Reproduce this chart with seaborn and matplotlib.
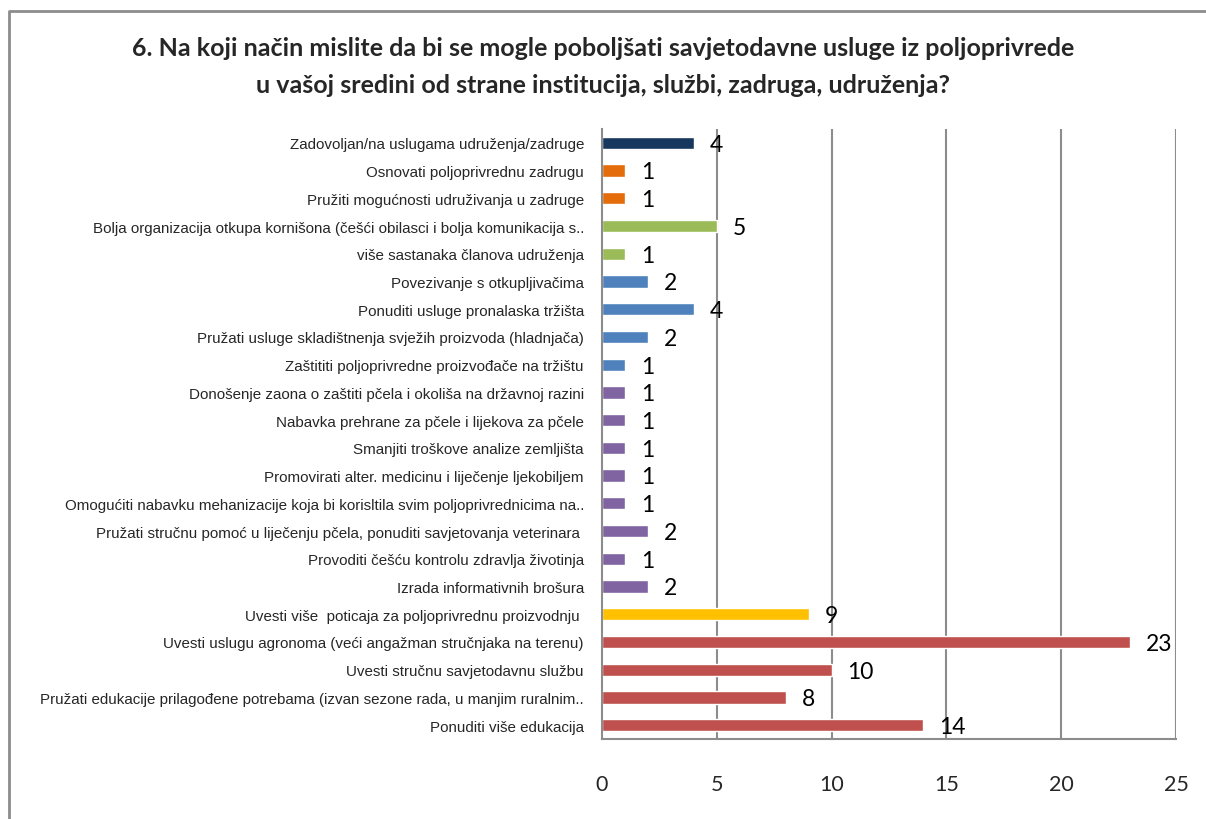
import matplotlib
matplotlib.use("Agg")
import matplotlib.pyplot as plt
from matplotlib.lines import Line2D
import numpy as np
import pandas as pd
import seaborn as sns

categories = [
    "Zadovoljan/na uslugama udruženja/zadruge",
    "Osnovati poljoprivrednu zadrugu",
    "Pružiti mogućnosti udruživanja u zadruge",
    "Bolja organizacija otkupa kornišona (češći obilasci i bolja komunikacija s..",
    "više sastanaka članova udruženja",
    "Povezivanje s otkupljivačima",
    "Ponuditi usluge pronalaska tržišta",
    "Pružati usluge skladištnenja svježih proizvoda (hladnjača)",
    "Zaštititi poljoprivredne proizvođače na tržištu",
    "Donošenje zaona o zaštiti pčela i okoliša na državnoj razini",
    "Nabavka prehrane za pčele i lijekova za pčele",
    "Smanjiti troškove analize zemljišta",
    "Promovirati alter. medicinu i liječenje ljekobiljem",
    "Omogućiti nabavku mehanizacije koja bi korisltila svim poljoprivrednicima na..",
    "Pružati stručnu pomoć u liječenju pčela, ponuditi savjetovanja veterinara ",
    "Provoditi češću kontrolu zdravlja životinja",
    "Izrada informativnih brošura",
    "Uvesti više  poticaja za poljoprivrednu proizvodnju ",
    "Uvesti uslugu agronoma (veći angažman stručnjaka na terenu)",
    "Uvesti stručnu savjetodavnu službu",
    "Pružati edukacije prilagođene potrebama (izvan sezone rada, u manjim ruralnim..",
    "Ponuditi više edukacija",
]
values = [4, 1, 1, 5, 1, 2, 4, 2, 1, 1, 1, 1, 1, 1, 2, 1, 2, 9, 23, 10, 8, 14]
colors = ["#17375E", "#E46C0A", "#E46C0A", "#9BBB59", "#9BBB59",
          "#4F81BD", "#4F81BD", "#4F81BD", "#4F81BD",
          "#8064A2", "#8064A2", "#8064A2", "#8064A2", "#8064A2", "#8064A2", "#8064A2", "#8064A2",
          "#FFC000", "#C0504D", "#C0504D", "#C0504D", "#C0504D"]
x_ticks = [0, 5, 10, 15, 20, 25]
title = ("6. Na koji način mislite da bi se mogle poboljšati savjetodavne usluge iz poljoprivrede\n"
         "u vašoj sredini od strane institucija, službi, zadruga, udruženja?")

sns.set_style("white")
plt.rcParams['font.family'] = ['Liberation Sans', 'DejaVu Sans']

df = pd.DataFrame({"cat": categories, "val": values})

fig = plt.figure(figsize=(12.06, 8.2), dpi=100)
ax = fig.add_axes([602/1206, 80/820, 574/1206, 610/820])

sns.barplot(data=df, y="cat", x="val", hue="cat", palette=colors, legend=False,
            orient="h", width=0.44, saturation=1, ax=ax)

ax.set_xlim(0, 25)
ax.set_ylim(len(categories) - 0.5, -0.5)
ax.set_xticks(x_ticks)
ax.set_xticklabels([str(t) for t in x_ticks], family=['Lato', 'DejaVu Sans'], fontsize=15.5)
ax.set_xlabel("")
ax.set_ylabel("")

gc = "#8C8C8C"
for t in x_ticks[1:]:
    ax.axvline(t, color=gc, lw=1.5, zorder=0)
for s in ["top", "right"]:
    ax.spines[s].set_visible(False)
for s in ["left", "bottom"]:
    ax.spines[s].set_color(gc)
    ax.spines[s].set_linewidth(1.5)

ax.tick_params(axis="x", length=4, width=1.5, color=gc, direction="out", pad=21)
ax.tick_params(axis="y", which="major", length=0, pad=13, labelsize=10.9)
ax.set_yticks(np.arange(-0.5, len(categories), 1), minor=True)
ax.tick_params(axis="y", which="minor", length=4, width=1.5, color=gc, direction="out")

for i, v in enumerate(values):
    ax.annotate(str(v), xy=(v, i), xytext=(11.5, -1), textcoords="offset points",
                va="center", ha="left", fontsize=16.5, family=['Lato', 'DejaVu Sans'],
                color="black")

fig.text(603/1206, 1 - 67/820, title, ha="center", va="center", fontsize=18,
         fontweight="bold", family=['Lato', 'DejaVu Sans'], linespacing=1.7)

fig.add_artist(Line2D([9/1206, 9/1206, 1.0], [0, 1 - 12/820, 1 - 12/820],
                      transform=fig.transFigure, color="#8C8C8C", lw=2))

fig.savefig("out.png", dpi=100)
